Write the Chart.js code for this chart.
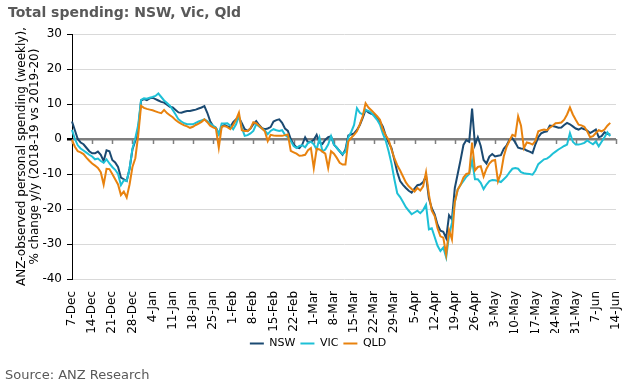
<!DOCTYPE html>
<html>
<head>
<meta charset="utf-8">
<script src="https://cdn.jsdelivr.net/npm/chart.js@4"></script>
<style>
body { margin: 0; background: #fff; }
#wrap { position: relative; width: 636px; height: 392px; }
#title { position: absolute; left: 8px; top: 4px; font: bold 14px "DejaVu Sans"; color: #595959; }
#source { position: absolute; left: 5px; top: 367px; font: 13px "DejaVu Sans"; color: #595959; }
canvas { position: absolute; left: 0; top: 0; }
</style>
</head>
<body>
<div id="wrap">
<canvas id="myChart" width="636" height="392"></canvas>
<div id="title">Total spending: NSW, Vic, Qld</div>
<div id="source">Source: ANZ Research</div>
</div>
<script>
// Daily categories, 7-Dec to 14-Jun (axis uses a non-leap calendar: 22-Feb, 1-Mar)
const monthNames = ["Jan", "Feb", "Mar", "Apr", "May", "Jun", "Jul", "Aug", "Sep", "Oct", "Nov", "Dec"];
const startDate = Date.UTC(2018, 11, 7);
const numDays = 190;
let days = [];
for (let i = 0; i < numDays; i++) {
    let d = new Date(startDate + i * 86400000);
    days.push(d.getUTCDate() + "-" + monthNames[d.getUTCMonth()]);
}
const labelEvery = 7;

// % change y/y, one value per day
const nsw = [
    5.0, 2.5, 0.0, -1.0, -1.5, -2.5, -3.5, -4.1, -4.1, -3.6,
    -4.5, -6.3, -3.2, -3.5, -6.0, -6.7, -8.0, -11.0, -11.5, -12.0,
    -8.5, -3.0, -0.5, 3.0, 11.0, 11.4, 11.1, 11.6, 11.8, 11.4,
    11.0, 10.6, 10.4, 9.8, 9.2, 9.0, 8.3, 7.6, 7.5, 7.8,
    8.0, 8.0, 8.2, 8.4, 8.7, 9.0, 9.4, 7.5, 5.1, 3.7,
    3.2, 1.5, 3.5, 4.0, 3.6, 3.4, 4.8, 5.6, 6.1, 4.5,
    2.8, 2.3, 3.0, 4.2, 5.1, 4.0, 3.1, 2.8, 3.0, 3.4,
    5.0, 5.4, 5.6, 4.6, 3.0, 2.3, 0.0, -1.5, -2.4, -2.6,
    -1.6, 0.5, -1.0, -0.8, -0.2, 1.2, -1.0, -1.4, -0.2, 0.5,
    0.8, -1.6, -2.5, -3.5, -4.5, -3.0, 1.0, 1.3, 1.6, 2.6,
    4.0, 6.0, 8.3, 7.6, 7.2, 6.9, 6.2, 5.0, 3.5, 1.0,
    -1.0, -2.6, -6.0, -9.5, -12.0, -13.1, -14.0, -14.8, -15.3, -14.2,
    -13.2, -13.0, -12.3, -10.5, -17.0, -19.8, -21.5, -24.5, -26.2, -26.5,
    -28.3, -21.8, -23.0, -14.0, -10.0, -6.0, -1.7, -0.3, -0.8, 8.7,
    -1.7, 0.5, -2.0, -6.0, -7.0, -5.0, -4.3, -5.0, -4.8, -4.6,
    -2.8, -1.8, -0.2, 0.2, -1.0, -2.5, -2.7, -2.8, -3.3, -3.6,
    -4.0, -1.5, 0.5, 1.6, 2.0, 2.2, 3.8, 3.7, 3.5, 3.2,
    3.3, 4.0, 4.6, 4.2, 3.6, 3.0, 2.7, 3.1, 2.8, 2.4,
    1.7, 2.2, 2.7, 0.5, 0.8, 1.9, 1.5, 1.2
];
const vic = [
    2.6, 0.0, -1.8, -2.7, -3.3, -3.9, -4.5, -5.0, -5.8, -5.6,
    -6.3, -6.8, -5.8, -7.0, -8.0, -8.8, -10.0, -13.2, -11.8, -12.0,
    -8.5, -2.7, 0.2, 4.0, 11.2, 11.6, 11.5, 11.8, 12.0, 12.3,
    13.0, 12.0, 11.0, 10.3, 9.5, 8.3, 7.0, 5.6, 5.0, 4.5,
    4.2, 4.2, 4.2, 4.6, 5.0, 5.3, 5.6, 5.1, 4.4, 3.8,
    3.2, 1.3, 4.4, 4.4, 4.5, 3.8, 2.8, 4.2, 6.5, 3.2,
    0.9, 1.1, 1.6, 2.3, 4.2, 3.6, 3.0, 2.4, 1.4, 2.3,
    2.8, 2.5, 2.3, 2.5, 1.2, 0.5, -0.6, -2.0, -2.6, -2.0,
    -1.8, -2.4, -1.1, -0.8, -1.5, -3.0, 0.3, -3.5, -3.0, -1.6,
    0.8, -1.6, -2.5, -3.5, -4.3, -3.6, 0.5, 2.0, 4.0, 8.8,
    7.5, 7.0, 8.3, 8.0, 7.5, 6.5, 5.5, 4.1, 1.5, -0.5,
    -3.5, -7.0, -11.5, -15.5, -16.6, -18.0, -19.5, -20.5, -21.5, -21.0,
    -20.5, -21.2, -20.3, -18.8, -25.8, -25.5, -28.0, -30.5, -32.0, -31.0,
    -33.8, -27.5, -24.0, -18.0, -14.5, -13.1, -12.0, -10.8, -10.0, -6.2,
    -11.5, -11.5, -12.5, -14.3, -13.0, -12.0, -11.7, -11.8, -12.0, -12.3,
    -11.5, -10.7, -9.5, -8.5, -8.3, -8.5, -9.5, -9.8, -9.9, -10.0,
    -10.2, -9.0, -7.2, -6.5, -5.8, -5.6, -5.0, -4.2, -3.6, -3.0,
    -2.5, -2.0, -1.6, 1.7, -0.8, -1.6, -1.6, -1.4, -1.1, -0.4,
    -1.0, -1.5, -0.7, -2.1, -0.8, 0.5, 1.9, 0.8
];
const qld = [
    -0.3, -2.2, -3.5, -3.8, -4.3, -5.3, -6.2, -7.0, -7.6, -8.3,
    -9.5, -13.0, -8.5, -8.6, -10.0, -11.5, -13.0, -16.0, -15.0, -16.7,
    -13.0, -8.0, -5.5, 1.0, 9.5, 8.9, 8.6, 8.4, 8.2, 7.9,
    7.6, 7.4, 8.3, 7.4, 6.8, 6.2, 5.4, 4.8, 4.3, 3.9,
    3.6, 3.2, 3.5, 4.0, 4.4, 4.9, 5.6, 4.8, 3.8, 3.3,
    3.0, -2.5, 3.5, 3.7, 3.4, 2.8, 4.0, 5.5, 7.5, 2.5,
    2.3, 2.3, 3.0, 4.8, 4.5, 3.8, 3.0, 2.2, -0.6, 1.2,
    1.0, 0.9, 0.9, 0.9, 1.1, 1.3, -3.4, -3.8, -4.2, -4.8,
    -4.7, -4.5, -3.2, -2.6, -8.3, -2.8, -3.0, -3.6, -4.2, -8.3,
    -3.5, -4.2, -5.4, -6.8, -7.3, -7.3, -0.7, 0.3, 1.2, 2.2,
    4.2, 6.5, 10.2, 9.0, 8.2, 7.4, 6.5, 5.5, 2.7, 1.0,
    -0.2, -3.0, -5.5, -7.5, -9.0, -10.7, -12.4, -13.5, -14.3, -15.0,
    -14.0, -14.7, -13.5, -9.5, -15.9, -20.5, -22.0, -25.5, -27.8, -28.2,
    -33.0, -26.0, -28.7, -18.0, -14.5, -13.1, -11.0, -10.0, -9.8, -1.0,
    -9.0, -8.0, -7.8, -10.7, -8.5, -7.0, -6.2, -6.0, -12.1, -9.8,
    -5.0, -2.2, -0.5, 1.2, 0.8, 6.5, 3.8, -2.6, -1.0, -1.2,
    -1.6, -0.5, 2.2, 2.5, 2.7, 2.5, 3.2, 3.8, 4.5, 4.6,
    4.7, 5.5, 7.0, 9.0, 7.0, 5.5, 4.1, 3.9, 3.5, 2.2,
    0.5, 0.8, 1.7, 2.5, 2.2, 2.7, 3.8, 4.6
];

const seriesNames = ["NSW", "VIC", "QLD"];
const seriesColors = ["#1B4A72", "#1EC0D6", "#E8820E"];
const yTitle = ["ANZ-observed personal spending (weekly),", "% change y/y (2018-19 vs 2019-20)"];

const font = "DejaVu Sans";

// Weekly tick marks hanging off the zero line (Excel-style crossing axis)
const zeroTicks = {
    id: "zeroTicks",
    beforeDatasetsDraw(chart) {
        let xs = chart.scales.x, ys = chart.scales.y;
        let y0 = ys.getPixelForValue(0);
        let ctx = chart.ctx;
        ctx.save();
        ctx.strokeStyle = "#7f7f7f";
        ctx.lineWidth = 1.5;
        for (let i = 0; i < days.length; i += labelEvery) {
            let x = Math.round(xs.getPixelForValue(i)) + 0.5;
            ctx.beginPath();
            ctx.moveTo(x, y0);
            ctx.lineTo(x, y0 + 5);
            ctx.stroke();
        }
        ctx.restore();
    }
};

let allSeries = [nsw, vic, qld];
let datasets = [];
for (let i = 0; i < allSeries.length; i++) {
    datasets.push({
        label: seriesNames[i],
        data: allSeries[i],
        borderColor: seriesColors[i],
        backgroundColor: seriesColors[i],
        borderWidth: 2,
        pointRadius: 0,
        tension: 0,
        order: allSeries.length - i
    });
}

const config = {
    type: "line",
    data: { labels: days, datasets: datasets },
    options: {
        responsive: false,
        animation: false,
        layout: { padding: { left: 0, right: 0, top: 34, bottom: 33 } },
        plugins: {
            tooltip: { enabled: false },
            legend: {
                position: "bottom",
                labels: {
                    font: { family: font, size: 11 },
                    color: "#000",
                    boxWidth: 14,
                    boxHeight: 2,
                    padding: 5,
                    sort: (a, b) => a.datasetIndex - b.datasetIndex,
                    generateLabels: (chart) =>
                        Chart.defaults.plugins.legend.labels.generateLabels(chart).map(function(l) {
                            l.lineWidth = 0;
                            l.fillStyle = l.strokeStyle;
                            return l;
                        })
                }
            }
        },
        scales: {
            x: {
                type: "category",
                offset: false,
                grid: { display: false },
                border: { display: false },
                ticks: {
                    autoSkip: false,
                    maxRotation: 90,
                    minRotation: 90,
                    padding: 4,
                    color: "#000",
                    font: { family: font, size: 12 },
                    callback: function(value, index) {
                        return index % labelEvery === 0 ? this.getLabelForValue(value) : null;
                    }
                },
                afterFit: function(scale) { scale.height = 54; }
            },
            y: {
                min: -40,
                max: 30,
                ticks: {
                    stepSize: 10,
                    padding: 5,
                    color: "#000",
                    font: { family: font, size: 12 }
                },
                grid: {
                    color: (c) => c.tick && c.tick.value === 0 ? "#7f7f7f" : "#d9d9d9",
                    lineWidth: (c) => c.tick && c.tick.value === 0 ? 2.5 : 1,
                    tickColor: "#000",
                    tickLength: 5
                },
                border: { color: "#000", width: 1 },
                title: {
                    display: true,
                    text: yTitle,
                    color: "#000",
                    font: { family: font, size: 12, lineHeight: 1.05 },
                    padding: { top: 16, bottom: 0 }
                },
                afterFit: function(scale) { scale.width = 72; }
            },
            // empty right-hand strip so the plot ends where the reference's does
            yRight: {
                position: "right",
                grid: { display: false },
                border: { display: false },
                ticks: { display: false },
                afterFit: function(scale) { scale.width = 20; }
            }
        }
    },
    plugins: [zeroTicks]
};

new Chart(document.getElementById("myChart"), config);
</script>
</body>
</html>
